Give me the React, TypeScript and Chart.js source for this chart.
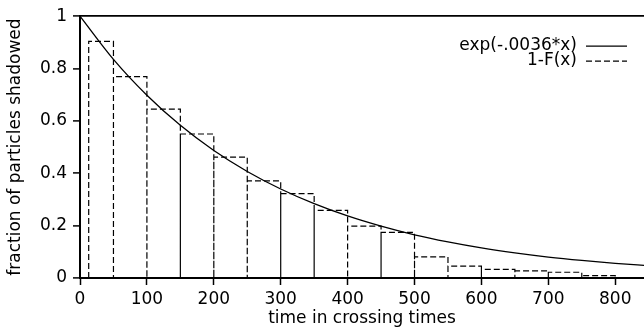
import React, { useEffect, useRef } from "react";
import { Chart, registerables } from "chart.js";

Chart.register(...registerables);

// Histogram of 1-F(x): bin edges and bar heights
const binEdges = [13, 50, 100, 150, 200, 250, 300, 350, 400, 450, 500, 550, 600, 650, 700, 750, 800];
const binHeights = [0.904, 0.769, 0.645, 0.55, 0.462, 0.371, 0.322, 0.258, 0.198, 0.174, 0.081, 0.045, 0.033, 0.027, 0.022, 0.009];

// Fitted curve exp(-.0036*x), read at sample points
const curveX = [0, 50, 100, 150, 200, 250, 300, 350, 400, 450, 500, 550, 600, 650, 700, 750, 800, 850];
const curveY = [1, 0.835, 0.698, 0.583, 0.487, 0.407, 0.34, 0.284, 0.237, 0.198, 0.165, 0.138, 0.115, 0.096, 0.08, 0.067, 0.056, 0.047];

const xTicks = [0, 100, 200, 300, 400, 500, 600, 700, 800];
const yTicks = [0, 0.2, 0.4, 0.6, 0.8, 1];
const seriesLabels = ["exp(-.0036*x)", "1-F(x)"];
const xTitle = "time in crossing times";
const yTitle = "fraction of particles shadowed";

const FONT_FAMILY = '"DejaVu Sans", "Liberation Sans", sans-serif';
const FONT_SIZE = 17;

const legendPlugin = {
  id: "insideLegend",
  afterDraw(chart: any) {
    const { ctx, chartArea } = chart;
    ctx.save();
    ctx.font = `${FONT_SIZE}px ${FONT_FAMILY}`;
    ctx.textAlign = "right";
    ctx.textBaseline = "middle";
    ctx.fillStyle = "#000";
    const textRight = chartArea.right - 67;
    const lineStart = chartArea.right - 58;
    const lineEnd = chartArea.right - 17;
    chart.data.datasets.forEach((ds: any, i: number) => {
      const y = chartArea.top + 29 + i * 15;
      ctx.fillText(ds.label, textRight, y);
      ctx.beginPath();
      ctx.setLineDash(ds.borderDash || []);
      ctx.lineWidth = 1.2;
      ctx.strokeStyle = "#000";
      ctx.moveTo(lineStart, y + 1);
      ctx.lineTo(lineEnd, y + 1);
      ctx.stroke();
    });
    ctx.restore();
  },
};

export default function App() {
  const canvasRef = useRef<HTMLCanvasElement | null>(null);

  useEffect(() => {
    if (!canvasRef.current) return;

    const histPoints: { x: number; y: number }[] = [{ x: binEdges[0], y: 0 }];
    binHeights.forEach((h, i) => {
      histPoints.push({ x: binEdges[i], y: h });
      histPoints.push({ x: binEdges[i + 1], y: h });
      histPoints.push({ x: binEdges[i + 1], y: 0 });
    });
    const curvePoints = curveX.map((x, i) => ({ x, y: curveY[i] }));

    const font = { family: FONT_FAMILY, size: FONT_SIZE };

    const chart = new Chart(canvasRef.current, {
      type: "line",
      data: {
        datasets: [
          {
            label: seriesLabels[0],
            data: curvePoints,
            borderColor: "#000",
            borderWidth: 1.3,
            pointRadius: 0,
            cubicInterpolationMode: "monotone",
            fill: false,
          },
          {
            label: seriesLabels[1],
            data: histPoints,
            borderColor: "#000",
            borderWidth: 1.2,
            borderDash: [6, 3],
            pointRadius: 0,
            tension: 0,
            fill: false,
          },
        ],
      },
      options: {
        responsive: false,
        animation: false,
        devicePixelRatio: 1,
        layout: { padding: { top: 14, right: 0, left: 0, bottom: 0 } },
        plugins: { legend: { display: false }, tooltip: { enabled: false } },
        scales: {
          x: {
            type: "linear",
            min: 0,
            max: 843,
            afterBuildTicks: (s: any) => {
              s.ticks = xTicks.map((v) => ({ value: v }));
            },
            afterFit: (s: any) => {
              s.height = 55;
            },
            ticks: { font, color: "#000", padding: 4, maxRotation: 0, autoSkip: false },
            grid: {
              drawOnChartArea: false,
              drawTicks: true,
              tickLength: 7,
              tickColor: "#000",
              tickWidth: 1.5,
            },
            border: { display: true, color: "#000", width: 2 },
            title: { display: true, text: xTitle, font, color: "#000", padding: { top: 0, bottom: 4 } },
          },
          y: {
            type: "linear",
            min: 0,
            max: 1,
            afterBuildTicks: (s: any) => {
              s.ticks = yTicks.map((v) => ({ value: v }));
            },
            afterFit: (s: any) => {
              s.width = 80;
            },
            ticks: { font, color: "#000", padding: 6, callback: (v: any) => String(v) },
            grid: {
              drawOnChartArea: true,
              drawTicks: true,
              tickLength: 7,
              tickColor: "#000",
              tickWidth: 1.5,
              color: (c: any) => (c.tick && c.tick.value === 1 ? "#000" : "rgba(0,0,0,0)"),
              lineWidth: 1.8,
            },
            border: { display: true, color: "#000", width: 2 },
            title: { display: true, text: yTitle, font, color: "#000", padding: { top: 5, bottom: 0 } },
          },
        },
      },
      plugins: [legendPlugin],
    } as any);

    return () => chart.destroy();
  }, []);

  return (
    <div style={{ position: "absolute", left: 0, top: 0, width: 644, height: 333, background: "#fff" }}>
      <canvas ref={canvasRef} width={644} height={333} style={{ display: "block", width: 644, height: 333 }} />
    </div>
  );
}
